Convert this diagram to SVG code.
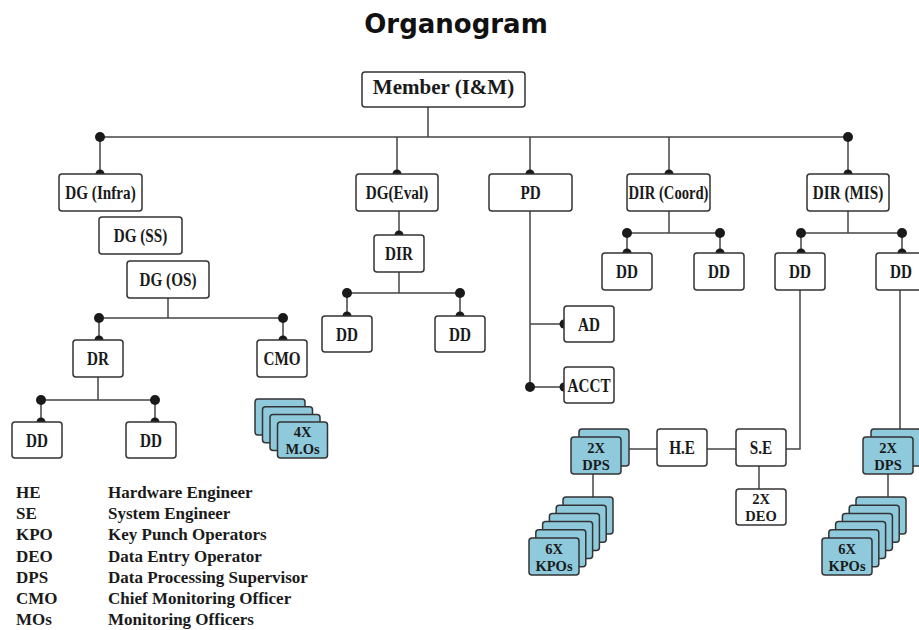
<svg xmlns="http://www.w3.org/2000/svg" width="919" height="630" viewBox="0 0 919 630">
  <style>
    .box { fill: #ffffff; stroke: #333333; stroke-width: 1.5; }
    .blue { fill: #8fc9dc; stroke: #333333; stroke-width: 1.5; }
    .line { fill: none; stroke: #444444; stroke-width: 1.5; }
    .dot { fill: #1a1a1a; }
    .lbl { font-family: "Liberation Serif", "Times New Roman", serif; font-weight: bold; font-size: 19px; fill: #1a1a1a; text-anchor: middle; }
    .two { font-family: "Liberation Serif", "Times New Roman", serif; font-weight: bold; font-size: 14.5px; fill: #1a1a1a; text-anchor: middle; }
    .big { font-family: "Liberation Serif", "Times New Roman", serif; font-weight: bold; font-size: 21px; fill: #1a1a1a; text-anchor: middle; }
    .leg { font-family: "Liberation Serif", "Times New Roman", serif; font-weight: bold; font-size: 17px; fill: #1a1a1a; }
    .title { font-family: "DejaVu Sans", "Liberation Sans", sans-serif; font-weight: bold; font-size: 26px; fill: #111111; text-anchor: middle; }
  </style>
  <rect width="919" height="630" fill="#ffffff"/>

  <text class="title" x="456" y="33">Organogram</text>

  <!-- connectors (drawn beneath the boxes so the joint dots show as half-dots) -->
  <g id="connectors">
    <path class="line" d="M428,107 V137 M100,137 H848 M100,137 V174 M397,137 V174 M530,137 V174 M669,137 V174 M848,137 V174"/>
    <circle class="dot" cx="100" cy="137" r="5"/>
    <circle class="dot" cx="848" cy="137" r="5"/>
    <circle class="dot" cx="100" cy="174" r="4.5"/>
    <circle class="dot" cx="397" cy="174" r="4.5"/>
    <circle class="dot" cx="530" cy="174" r="4.5"/>
    <circle class="dot" cx="669" cy="174" r="4.5"/>
    <circle class="dot" cx="848" cy="174" r="4.5"/>

    <!-- DG(Eval) branch -->
    <path class="line" d="M399,211 V235 M399,272 V293 M347,293 H460 M347,293 V316 M460,293 V316"/>
    <circle class="dot" cx="399" cy="235" r="4.5"/>
    <circle class="dot" cx="347" cy="293" r="5"/>
    <circle class="dot" cx="460" cy="293" r="5"/>
    <circle class="dot" cx="347" cy="316" r="4.5"/>
    <circle class="dot" cx="460" cy="316" r="4.5"/>

    <!-- DG(OS) branch -->
    <path class="line" d="M168,298 V318 M99,318 H283 M99,318 V340 M283,318 V340"/>
    <circle class="dot" cx="99" cy="318" r="5"/>
    <circle class="dot" cx="283" cy="318" r="5"/>
    <circle class="dot" cx="99" cy="340" r="4.5"/>
    <circle class="dot" cx="283" cy="340" r="4.5"/>

    <!-- DR branch -->
    <path class="line" d="M98,377 V400 M41,400 H155 M41,400 V422 M155,400 V422"/>
    <circle class="dot" cx="41" cy="400" r="5"/>
    <circle class="dot" cx="155" cy="400" r="5"/>
    <circle class="dot" cx="41" cy="422" r="4.5"/>
    <circle class="dot" cx="155" cy="422" r="4.5"/>

    <!-- PD branch -->
    <path class="line" d="M530,211 V387 M530,324 H564 M530,387 H564"/>
    <circle class="dot" cx="530" cy="387" r="5"/>
    <circle class="dot" cx="564" cy="324" r="4.5"/>
    <circle class="dot" cx="564" cy="387" r="4.5"/>

    <!-- DIR(Coord) branch -->
    <path class="line" d="M669,211 V233 M627,233 H720 M627,233 V253 M720,233 V253"/>
    <circle class="dot" cx="627" cy="233" r="5"/>
    <circle class="dot" cx="720" cy="233" r="5"/>
    <circle class="dot" cx="627" cy="253" r="4.5"/>
    <circle class="dot" cx="720" cy="253" r="4.5"/>

    <!-- DIR(MIS) branch -->
    <path class="line" d="M848,211 V233 M801,233 H902 M801,233 V253 M902,233 V253"/>
    <circle class="dot" cx="801" cy="233" r="5"/>
    <circle class="dot" cx="902" cy="233" r="5"/>
    <circle class="dot" cx="801" cy="253" r="4.5"/>
    <circle class="dot" cx="902" cy="253" r="4.5"/>

    <!-- MIS staff lines -->
    <path class="line" d="M628,449 H657 M707,449 H736 M786,449 H800 V290 M759,466 V489 M900,290 V429 M593,474 V497 M888,474 V497"/>
  </g>

  <!-- nodes -->
  <g id="member">
    <rect class="box" x="362" y="72" width="163" height="35" rx="3"/>
    <text class="big" x="443.5" y="94">Member (I&amp;M)</text>
  </g>

  <g id="dg-infra">
    <rect class="box" x="59" y="174" width="83" height="37" rx="3"/>
    <text class="lbl" transform="translate(100.5,198.5) scale(.8,1)">DG (Infra)</text>
  </g>
  <g id="dg-ss">
    <rect class="box" x="99" y="217" width="83" height="37" rx="3"/>
    <text class="lbl" transform="translate(140.5,241.5) scale(.8,1)">DG (SS)</text>
  </g>
  <g id="dg-os">
    <rect class="box" x="127" y="261" width="82" height="37" rx="3"/>
    <text class="lbl" transform="translate(168,285.5) scale(.8,1)">DG (OS)</text>
  </g>
  <g id="dr">
    <rect class="box" x="73" y="340" width="50" height="37" rx="3"/>
    <text class="lbl" transform="translate(98,365) scale(.8,1)">DR</text>
  </g>
  <g id="cmo">
    <rect class="box" x="257" y="340" width="50" height="37" rx="3"/>
    <text class="lbl" transform="translate(282,365) scale(.8,1)">CMO</text>
  </g>
  <g id="dd-dr-1">
    <rect class="box" x="12" y="422" width="50" height="36" rx="3"/>
    <text class="lbl" transform="translate(37,447) scale(.8,1)">DD</text>
  </g>
  <g id="dd-dr-2">
    <rect class="box" x="126" y="422" width="50" height="36" rx="3"/>
    <text class="lbl" transform="translate(151,447) scale(.8,1)">DD</text>
  </g>
  <g id="mos">
    <rect class="blue" x="255" y="399" width="50" height="36" rx="3"/>
    <rect class="blue" x="262.5" y="406.7" width="50" height="36" rx="3"/>
    <rect class="blue" x="270" y="414.4" width="50" height="36" rx="3"/>
    <rect class="blue" x="277.5" y="422" width="50" height="36" rx="3"/>
    <text class="two" x="302.5" y="437">4X</text>
    <text class="two" x="302.5" y="453.5">M.Os</text>
  </g>

  <g id="dg-eval">
    <rect class="box" x="356" y="174" width="82" height="37" rx="3"/>
    <text class="lbl" transform="translate(397,198.5) scale(.8,1)">DG(Eval)</text>
  </g>
  <g id="dir">
    <rect class="box" x="374" y="235" width="50" height="37" rx="3"/>
    <text class="lbl" transform="translate(399,260) scale(.8,1)">DIR</text>
  </g>
  <g id="dd-eval-1">
    <rect class="box" x="322" y="316" width="50" height="36" rx="3"/>
    <text class="lbl" transform="translate(347,341) scale(.8,1)">DD</text>
  </g>
  <g id="dd-eval-2">
    <rect class="box" x="435" y="316" width="50" height="36" rx="3"/>
    <text class="lbl" transform="translate(460,341) scale(.8,1)">DD</text>
  </g>

  <g id="pd">
    <rect class="box" x="489" y="174" width="83" height="37" rx="3"/>
    <text class="lbl" transform="translate(530.5,198.5) scale(.8,1)">PD</text>
  </g>
  <g id="ad">
    <rect class="box" x="564" y="306" width="50" height="36" rx="3"/>
    <text class="lbl" transform="translate(589,331) scale(.8,1)">AD</text>
  </g>
  <g id="acct">
    <rect class="box" x="564" y="367" width="50" height="36" rx="3"/>
    <text class="lbl" transform="translate(589,392) scale(.8,1)">ACCT</text>
  </g>

  <g id="dir-coord">
    <rect class="box" x="627" y="174" width="83" height="37" rx="3"/>
    <text class="lbl" transform="translate(668.5,198.5) scale(.77,1)">DIR (Coord)</text>
  </g>
  <g id="dd-coord-1">
    <rect class="box" x="602" y="253" width="50" height="37" rx="3"/>
    <text class="lbl" transform="translate(627,278) scale(.8,1)">DD</text>
  </g>
  <g id="dd-coord-2">
    <rect class="box" x="694" y="253" width="50" height="37" rx="3"/>
    <text class="lbl" transform="translate(719,278) scale(.8,1)">DD</text>
  </g>

  <g id="dir-mis">
    <rect class="box" x="807" y="174" width="82" height="37" rx="3"/>
    <text class="lbl" transform="translate(848,198.5) scale(.8,1)">DIR (MIS)</text>
  </g>
  <g id="dd-mis-1">
    <rect class="box" x="775" y="253" width="50" height="37" rx="3"/>
    <text class="lbl" transform="translate(800,278) scale(.8,1)">DD</text>
  </g>
  <g id="dd-mis-2">
    <rect class="box" x="876" y="253" width="50" height="37" rx="3"/>
    <text class="lbl" transform="translate(901,278) scale(.8,1)">DD</text>
  </g>

  <g id="he">
    <rect class="box" x="657" y="429" width="50" height="37" rx="3"/>
    <text class="lbl" transform="translate(682,454) scale(.8,1)">H.E</text>
  </g>
  <g id="se">
    <rect class="box" x="736" y="429" width="50" height="37" rx="3"/>
    <text class="lbl" transform="translate(761,454) scale(.8,1)">S.E</text>
  </g>
  <g id="deo">
    <rect class="box" x="736" y="489" width="50" height="36" rx="3"/>
    <text class="two" x="761" y="504">2X</text>
    <text class="two" x="761" y="520.5">DEO</text>
  </g>

  <g id="dps-left">
    <rect class="blue" x="579" y="429" width="50" height="37" rx="3"/>
    <rect class="blue" x="571" y="437" width="50" height="37" rx="3"/>
    <text class="two" x="596" y="453">2X</text>
    <text class="two" x="596" y="469.5">DPS</text>
  </g>
  <g id="kpo-left">
    <rect class="blue" x="563" y="497" width="50" height="37" rx="3"/>
    <rect class="blue" x="556.2" y="505.2" width="50" height="37" rx="3"/>
    <rect class="blue" x="549.4" y="513.4" width="50" height="37" rx="3"/>
    <rect class="blue" x="542.6" y="521.6" width="50" height="37" rx="3"/>
    <rect class="blue" x="535.8" y="529.8" width="50" height="37" rx="3"/>
    <rect class="blue" x="529" y="538" width="50" height="37" rx="3"/>
    <text class="two" x="554" y="554">6X</text>
    <text class="two" x="554" y="570.5">KPOs</text>
  </g>

  <g id="dps-right">
    <rect class="blue" x="871" y="429" width="50" height="37" rx="3"/>
    <rect class="blue" x="863" y="437" width="50" height="37" rx="3"/>
    <text class="two" x="888" y="453">2X</text>
    <text class="two" x="888" y="469.5">DPS</text>
  </g>
  <g id="kpo-right">
    <rect class="blue" x="856" y="497" width="50" height="37" rx="3"/>
    <rect class="blue" x="849.2" y="505.2" width="50" height="37" rx="3"/>
    <rect class="blue" x="842.4" y="513.4" width="50" height="37" rx="3"/>
    <rect class="blue" x="835.6" y="521.6" width="50" height="37" rx="3"/>
    <rect class="blue" x="828.8" y="529.8" width="50" height="37" rx="3"/>
    <rect class="blue" x="822" y="538" width="50" height="37" rx="3"/>
    <text class="two" x="847" y="554">6X</text>
    <text class="two" x="847" y="570.5">KPOs</text>
  </g>

  <!-- abbreviation key -->
  <g id="legend">
    <text class="leg" x="16" y="498">HE</text>
    <text class="leg" x="108" y="498">Hardware Engineer</text>
    <text class="leg" x="16" y="519.2">SE</text>
    <text class="leg" x="108" y="519.2">System Engineer</text>
    <text class="leg" x="16" y="540.4">KPO</text>
    <text class="leg" x="108" y="540.4">Key Punch Operators</text>
    <text class="leg" x="16" y="561.6">DEO</text>
    <text class="leg" x="108" y="561.6">Data Entry Operator</text>
    <text class="leg" x="16" y="582.8">DPS</text>
    <text class="leg" x="108" y="582.8">Data Processing Supervisor</text>
    <text class="leg" x="16" y="604">CMO</text>
    <text class="leg" x="108" y="604">Chief Monitoring Officer</text>
    <text class="leg" x="16" y="625">MOs</text>
    <text class="leg" x="108" y="625">Monitoring Officers</text>
  </g>
</svg>
